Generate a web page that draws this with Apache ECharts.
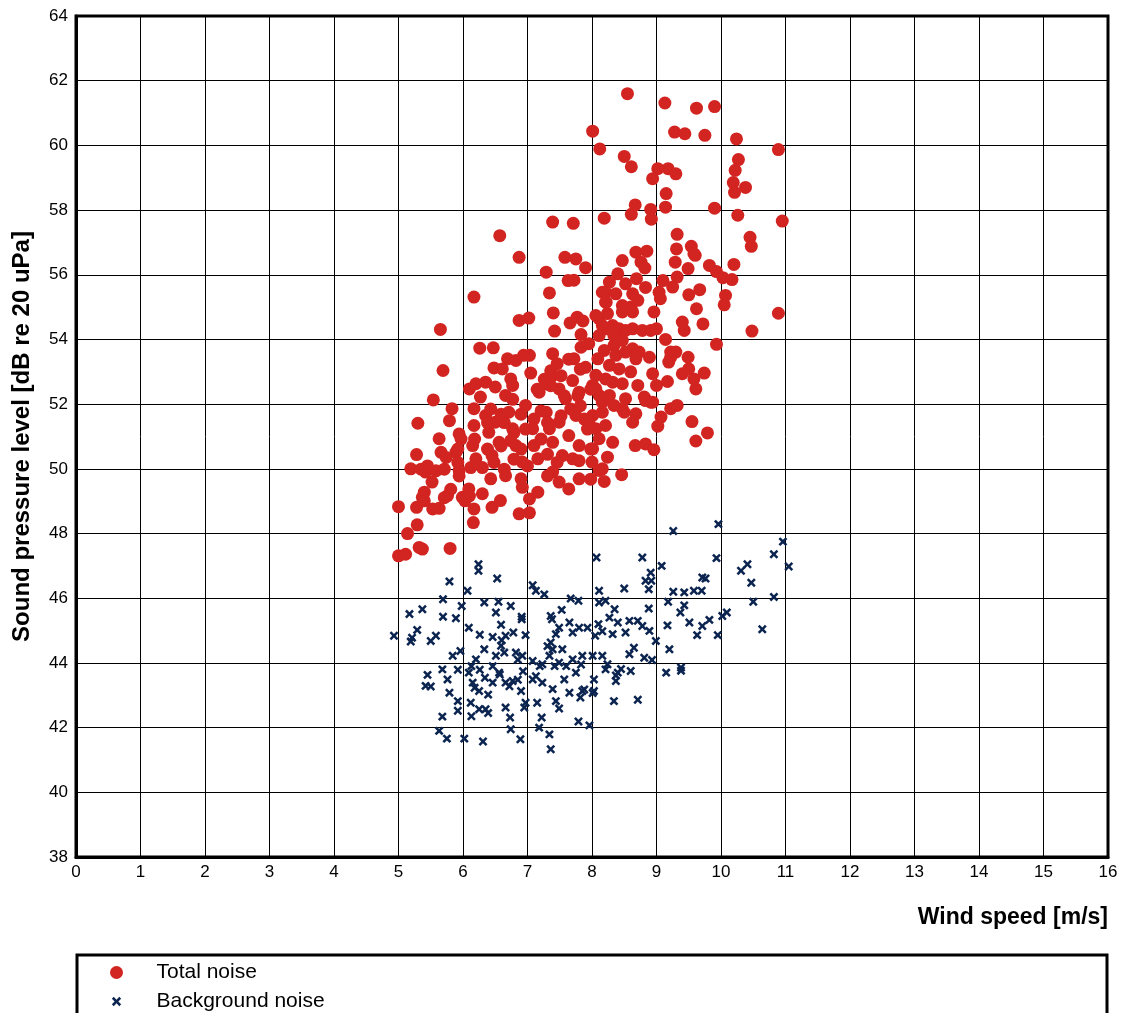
<!DOCTYPE html>
<html>
<head>
<meta charset="utf-8">
<title>Wind speed vs sound pressure level</title>
<script src="https://cdn.jsdelivr.net/npm/echarts@6/dist/echarts.min.js"></script>
<style>
  html, body { margin: 0; padding: 0; background: #fff; }
  #chart { width: 1137px; height: 1013px; }
</style>
</head>
<body>
<div id="chart"></div>
<script>
// wind speed [m/s], sound pressure level [dB]
const totalNoise = [
  [8.55,61.6],[9.13,61.31],[9.62,61.15],[9.90,61.2],[8.01,60.44],[9.28,60.41],[9.44,60.36],[9.75,60.31],[10.24,60.2],[10.89,59.87],
  [8.12,59.89],[8.50,59.66],[8.61,59.34],[9.02,59.28],[9.18,59.28],[9.30,59.12],[8.94,58.97],[10.27,59.56],[10.22,59.23],[10.19,58.85],
  [10.38,58.70],[10.21,58.55],[9.15,58.51],[8.67,58.16],[8.91,58.02],[8.61,57.87],[9.14,58.09],[8.92,57.72],[9.90,58.06],[10.26,57.84],
  [10.95,57.66],[7.39,57.63],[7.71,57.59],[8.19,57.75],[6.57,57.21],[9.32,57.25],[10.45,57.16],[10.47,56.88],[6.87,56.54],[7.58,56.54],
  [7.75,56.49],[7.90,56.22],[7.29,56.08],[8.47,56.44],[8.68,56.70],[8.85,56.73],[8.76,56.39],[8.82,56.21],[9.31,56.80],[9.54,56.88],
  [9.60,56.60],[9.29,56.39],[9.49,56.19],[9.82,56.29],[9.93,56.10],[10.20,56.32],[10.03,55.91],[10.17,55.85],[8.40,56.03],[7.63,55.82],
  [7.72,55.83],[8.27,55.77],[8.52,55.72],[8.69,55.88],[9.10,55.82],[9.32,55.93],[9.25,55.62],[8.83,55.61],[6.17,55.31],[7.34,55.44],
  [9.67,55.54],[9.50,55.38],[10.07,55.36],[9.04,55.46],[8.21,55.46],[8.37,55.41],[9.58,56.65],
  [5.65,54.31],[6.87,54.59],[7.02,54.66],[7.40,54.82],[7.42,54.26],[7.66,54.51],[7.77,54.69],[7.86,54.57],[7.83,54.15],[8.11,54.64],
  [8.21,55.15],[8.24,54.80],[8.32,54.43],[8.42,54.33],[8.47,54.85],[8.60,55.0],[8.71,55.21],[8.63,54.33],[8.78,54.28],[8.96,54.85],
  [9.06,55.26],[8.91,54.28],[9.00,54.33],[9.62,54.95],[9.40,54.54],[9.43,54.28],[9.72,54.48],[10.05,55.07],[10.48,54.26],[10.89,54.81],
  [9.14,54.0],[9.93,53.85],[8.22,55.15],[8.63,55.41],[8.47,55.05],[8.63,54.85],[8.52,54.28],[8.24,54.33],
  [8.16,55.46],[8.06,54.74],[8.16,54.43],[8.11,54.12],[8.34,54.12],[8.47,53.97],
  [6.26,53.73],[6.47,53.74],[5.69,53.04],[6.69,53.40],[6.82,53.35],[6.94,53.51],[7.03,53.51],[6.48,53.12],[6.61,53.09],[7.05,52.96],
  [6.74,52.78],[6.77,52.58],[6.10,52.47],[6.20,52.63],[6.35,52.68],[6.50,52.53],[6.66,52.27],[6.27,52.22],[7.39,53.56],[7.46,53.25],
  [7.72,53.40],[7.90,53.14],[7.83,53.76],[7.95,53.87],[7.39,52.89],[7.29,52.63],[7.18,52.37],[7.49,52.47],[7.70,52.73],[7.80,52.37],
  [8.01,52.58],[8.11,52.27],[7.59,52.17],[8.19,53.66],[8.34,53.81],[8.27,53.20],[8.42,53.09],[8.21,52.78],[8.47,52.63],[8.63,53.71],
  [8.73,53.61],[8.89,53.45],[8.60,53.0],[8.71,52.58],[8.81,52.22],[8.91,52.06],[8.94,52.94],[9.00,52.58],[9.22,53.61],[9.30,53.61],
  [9.22,53.45],[9.40,52.94],[9.50,53.09],[9.49,53.45],[9.58,52.78],[9.61,52.47],[9.74,52.96],[9.17,52.70],[8.52,52.17],
  [9.19,53.30],[8.68,53.40],[8.52,53.61],[8.06,52.47],[8.27,52.27],[8.47,51.86],[8.09,53.40],[8.37,53.51],[8.06,52.89],[8.32,52.68],
  [8.16,52.06],[8.34,51.96],[8.01,51.65],[8.06,51.24],[8.11,50.93],[8.00,50.21],
  [6.77,52.15],[7.15,52.46],[7.36,52.57],[7.26,52.77],[7.52,52.88],[7.82,53.08],[7.36,53.03],[7.64,53.39],[7.57,52.26],[7.78,52.26],
  [7.98,52.46],
  [5.54,52.13],[5.83,51.86],[5.79,51.49],[5.30,51.41],[5.94,51.08],[5.63,50.93],[5.66,50.51],[5.28,50.44],[5.19,50.0],[5.42,49.90],
  [5.52,49.59],[5.89,50.51],[5.94,49.95],[6.17,51.86],[6.17,51.34],[6.15,50.72],[6.20,50.31],[6.35,51.65],[6.40,51.13],[6.50,51.44],
  [6.56,50.82],[6.45,50.41],[6.71,51.75],[6.77,51.24],[6.82,50.72],[6.92,50.21],[6.97,51.96],[7.08,51.24],[7.10,50.72],[7.16,50.31],
  [7.29,51.75],[7.34,51.24],[7.39,50.82],[7.49,51.44],[7.54,50.41],[7.64,51.03],[7.75,51.65],[7.80,50.72],[7.70,50.31],[7.95,51.44],
  [8.01,50.62],[8.16,51.75],[8.21,51.34],[8.32,50.82],[8.24,50.36],[8.16,50.0],[8.50,51.75],[8.68,51.70],[8.63,51.44],[8.83,52.11],
  [8.94,52.06],[9.22,51.86],[9.32,51.96],[9.07,51.60],[9.02,51.32],[9.55,51.46],[9.61,50.86],[9.79,51.11],[8.67,50.72],[8.83,50.77],
  [8.96,50.59],[8.46,49.82],[8.19,49.61],[8.11,49.95],
  [6.43,51.85],[6.59,51.69],[6.90,51.69],[6.38,51.43],[6.64,51.43],[6.79,51.12],[6.97,51.23],[7.10,51.54],[7.21,51.79],[7.31,51.43],
  [7.52,51.64],[7.67,51.85],[7.82,51.95],[7.88,51.54],[7.93,51.23],[7.21,50.92],[6.90,50.61],[6.74,50.87],[6.59,50.71],[6.38,50.61],
  [6.18,50.92],[5.97,50.92],[5.92,50.61],[5.74,50.35],[5.45,50.09],[5.35,49.99],[5.58,49.94],[5.71,49.99],[5.92,50.20],[5.94,49.78],
  [6.12,50.04],[6.30,50.04],[6.48,50.20],[6.64,49.99],[6.79,50.30],[7.00,50.09],[7.31,50.45],[7.46,50.20],[7.80,50.25],[7.98,50.61],
  [5.0,48.83],[5.28,48.81],[5.53,48.76],[5.63,48.78],[5.40,49.28],[5.37,49.12],[5.76,49.17],[5.99,49.12],[6.09,49.38],[6.17,48.76],
  [6.30,49.23],[6.43,49.69],[6.45,48.81],[6.58,49.02],[6.66,49.79],[6.92,49.43],[6.90,49.69],[7.03,49.07],[7.16,49.28],[6.87,48.61],
  [7.03,48.64],[7.39,49.90],[7.49,49.59],[7.64,49.38],[7.80,49.69],[5.40,49.01],[5.81,49.37],[5.71,49.11],[6.10,49.16],[6.03,49.01],
  [7.31,49.78],[7.98,49.68],
  [5.29,48.27],[5.14,48.0],[6.16,48.34],[5.0,47.31],[5.11,47.36],[5.32,47.57],[5.37,47.52],[5.80,47.54]
];

const backgroundNoise = [
  [9.96,48.29],[9.26,48.08],[10.96,47.75],[8.07,47.26],[8.78,47.26],[9.93,47.24],[10.82,47.36],[11.05,46.98],[9.08,47.0],[6.24,47.05],
  [6.24,46.85],[10.41,47.05],[10.31,46.85],[10.47,46.48],[5.79,46.52],[6.53,46.61],[7.08,46.40],[7.13,46.23],[7.26,46.12],[8.91,46.79],
  [8.83,46.54],[8.92,46.54],[8.88,46.28],[9.71,46.64],[9.76,46.61],[6.07,46.23],[8.11,46.23],[8.50,46.30],[9.26,46.20],[9.43,46.18],
  [9.58,46.23],[9.70,46.23],[5.69,45.97],[10.82,46.04],[10.50,45.89],[5.17,45.51],[5.37,45.66],[5.69,45.43],[5.89,45.38],[5.98,45.76],
  [6.33,45.87],[6.55,45.89],[6.51,45.56],[6.74,45.76],[6.59,45.18],[6.91,45.43],[6.91,45.35],[7.36,45.45],[7.38,45.35],[7.53,45.64],
  [7.67,45.99],[7.79,45.92],[8.11,45.87],[8.21,45.92],[8.35,45.66],[8.88,45.68],[9.18,45.89],[9.37,45.56],[9.43,45.78],[9.51,45.25],
  [9.82,45.33],[10.02,45.45],[10.09,45.56],[9.71,45.14],[9.63,44.86],[9.95,44.86],[10.64,45.04],[9.17,45.16],[4.93,44.84],[5.21,44.78],
  [5.29,45.02],[5.19,44.66],[5.50,44.68],[5.58,44.84],[6.09,45.09],[6.26,44.87],[6.46,44.80],[6.60,44.70],[6.66,44.84],[6.78,44.94],
  [6.97,44.86],[6.59,44.53],[7.49,45.09],[7.44,44.89],[7.36,44.63],[7.39,44.42],[7.54,44.42],[7.65,45.25],[7.70,44.94],[7.80,45.09],
  [7.93,45.09],[8.10,45.20],[8.05,44.84],[8.27,45.40],[8.32,44.89],[8.40,45.25],[8.52,44.94],[8.58,45.30],[8.71,45.30],[8.78,45.14],
  [8.89,44.99],[8.99,44.68],[8.65,44.47],[8.58,44.27],[9.20,44.42],[8.81,44.16],[8.93,44.09],[9.15,43.70],[9.38,43.86],[9.38,43.76],
  [5.84,44.22],[5.96,44.37],[6.20,44.11],[6.33,44.42],[6.51,44.22],[6.64,44.32],[6.82,44.32],[6.92,44.22],[7.08,44.06],[7.23,43.96],
  [7.34,44.22],[7.49,44.01],[7.70,44.11],[7.85,44.22],[8.01,44.22],[8.16,44.22],[8.24,43.96],[5.45,43.63],[5.42,43.29],[5.50,43.27],
  [5.68,43.80],[5.76,43.49],[5.79,43.08],[5.92,42.82],[5.92,42.52],[6.09,43.70],[6.12,42.77],[6.15,43.39],[6.25,43.13],[6.35,42.57],
  [6.25,42.57],[6.46,43.39],[6.56,43.70],[6.66,43.39],[6.66,42.62],[6.77,43.44],[6.90,43.13],[6.97,42.77],[6.95,42.62],[7.08,43.49],
  [7.15,42.77],[7.23,43.39],[7.39,43.19],[7.44,42.82],[7.49,42.59],[7.65,43.08],[7.57,43.49],[7.75,43.70],[7.85,43.13],[7.82,42.93],
  [8.03,43.13],[8.03,43.49],[8.21,43.80],[8.40,43.70],[8.37,43.44],[8.60,43.75],[8.34,42.82],[8.71,42.86],[5.68,42.34],[5.63,41.90],
  [5.75,41.66],[6.02,41.66],[6.31,41.57],[6.73,42.31],[6.74,41.95],[6.89,41.64],[7.18,42.0],[7.22,42.31],[7.34,41.79],[7.36,41.33],
  [7.79,42.19],[7.96,42.07],
  [8.16,44.98],[7.31,44.52],[6.85,44.10],[6.46,43.90],[6.26,43.79],[6.13,43.90],[5.92,43.79],[6.34,43.54],[6.18,43.23],[6.39,43.02],
  [6.39,42.45],[6.13,42.35],[6.57,43.64],[6.72,43.28],[6.85,43.48],[6.93,43.74],[7.13,43.59],[7.19,43.90],[7.42,43.90],[7.88,43.18],
  [8.01,43.07],[7.83,43.95],[7.60,43.90],[8.45,43.81],[8.37,43.61]
];

const xTicks = { min: 0, max: 16, interval: 1 };
const yTicks = { min: 38, max: 64, interval: 2 };

const font = "'Liberation Sans', Arial, sans-serif";
// x-shaped marker; the two empty points around it only widen the box
// so the legend icon comes out a bit smaller than the square item
const crossPath = 'path://M-2,-2 L-2,-2 M12,12 L12,12 M0,2 L2,0 L5,3 L8,0 L10,2 L7,5 L10,8 L8,10 L5,7 L2,10 L0,8 L3,5 Z';

const chart = echarts.init(document.getElementById('chart'));

const option = {
  animation: false,
  textStyle: { fontFamily: font, color: '#000' },
  grid: {
    left: 76,
    right: 29,
    top: 16,
    bottom: 156,
    show: true,
    borderColor: '#000',
    borderWidth: 3,
    backgroundColor: '#fff'
  },
  xAxis: {
    type: 'value',
    min: xTicks.min,
    max: xTicks.max,
    interval: xTicks.interval,
    name: 'Wind speed [m/s]',
    nameLocation: 'end',
    nameGap: 0,
    nameTextStyle: {
      fontFamily: font,
      fontSize: 23,
      fontWeight: 'bold',
      color: '#000',
      align: 'right',
      verticalAlign: 'top',
      padding: [49, 0, 0, 0]
    },
    axisLine: { show: true, lineStyle: { color: '#000', width: 3 } },
    axisTick: { show: false },
    axisLabel: { color: '#000', fontSize: 17, fontFamily: font, margin: 7 },
    splitLine: { show: true, lineStyle: { color: '#000', width: 1 } }
  },
  yAxis: {
    type: 'value',
    min: yTicks.min,
    max: yTicks.max,
    interval: yTicks.interval,
    name: 'Sound pressure level [dB re 20 uPa]',
    nameLocation: 'middle',
    nameGap: 42,
    nameTextStyle: { fontFamily: font, fontSize: 24, fontWeight: 'bold', color: '#000' },
    axisLine: { show: true, lineStyle: { color: '#000', width: 3 } },
    axisTick: { show: false },
    axisLabel: { color: '#000', fontSize: 17, fontFamily: font, margin: 8 },
    splitLine: { show: true, lineStyle: { color: '#000', width: 1 } }
  },
  legend: {
    orient: 'vertical',
    left: 110,
    top: 962,
    height: 60,
    padding: 0,
    itemWidth: 70,
    itemHeight: 13,
    itemGap: 8,
    textStyle: { fontFamily: font, fontSize: 21, color: '#000' },
    data: ['Total noise', 'Background noise']
  },
  graphic: [
    {
      type: 'rect',
      shape: { x: 77, y: 955, width: 1030, height: 70 },
      style: { fill: 'none', stroke: '#000', lineWidth: 3 },
      silent: true
    }
  ],
  series: [
    {
      name: 'Total noise',
      type: 'scatter',
      symbol: 'circle',
      symbolSize: 13,
      itemStyle: { color: '#d22420', opacity: 1 },
      data: totalNoise
    },
    {
      name: 'Background noise',
      type: 'scatter',
      symbol: crossPath,
      symbolSize: 12.5,
      itemStyle: { color: '#0c2550', opacity: 1 },
      data: backgroundNoise
    }
  ]
};

chart.setOption(option);
</script>
</body>
</html>
